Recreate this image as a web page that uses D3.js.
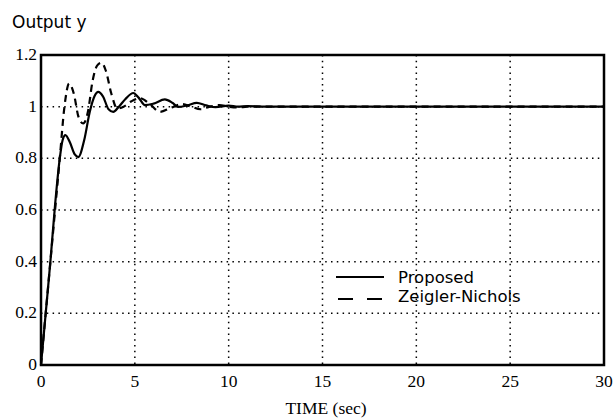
<!DOCTYPE html>
<html>
<head>
<meta charset="utf-8">
<script src="https://cdn.jsdelivr.net/npm/d3@7"></script>
<style>
  body { margin: 0; background: #fff; }
  svg { display: block; }
  .tick-label { font-family: "Liberation Serif", "Times New Roman", serif; font-size: 17.5px; fill: #000; }
  .sans { font-family: "DejaVu Sans", Verdana, sans-serif; font-size: 16.5px; fill: #000; }
</style>
</head>
<body>
<svg id="chart" width="615" height="419"></svg>
<script>
// step response
const timeProposed = [0, 0.25, 0.5, 0.75, 1.0, 1.15, 1.3, 1.55, 1.8, 1.99, 2.3, 2.6, 2.85, 3.05, 3.3, 3.6, 3.85, 4.15, 4.5, 4.92, 5.2, 5.54, 6.0, 6.6, 7.0, 7.3, 7.8, 8.3, 8.8, 9.3, 10, 10.5, 11, 12, 14, 30];
const yProposed    = [0, 0.2, 0.4, 0.62, 0.8, 0.87, 0.89, 0.86, 0.815, 0.805, 0.87, 0.98, 1.04, 1.057, 1.04, 0.99, 0.98, 1.0, 1.03, 1.053, 1.035, 1.006, 1.012, 1.028, 1.015, 0.999, 1.005, 1.015, 1.005, 0.998, 1.004, 1.0, 1.002, 1.0, 1.0, 1.0];
const timeZN = [0, 0.25, 0.5, 0.75, 1.0, 1.25, 1.5, 1.75, 2.0, 2.25, 2.5, 2.75, 3.0, 3.23, 3.45, 3.75, 4.06, 4.4, 4.8, 5.27, 5.8, 6.34, 6.9, 7.5, 8.0, 8.5, 9.0, 9.5, 10, 10.5, 11, 12, 30];
const yZN    = [0, 0.2, 0.4, 0.6, 0.8, 1.0, 1.09, 1.05, 0.96, 0.935, 0.98, 1.1, 1.16, 1.17, 1.14, 1.05, 0.993, 1.0, 1.02, 1.033, 1.01, 0.98, 0.995, 1.01, 1.0, 0.99, 1.0, 1.006, 1.0, 0.997, 1.0, 1.0, 1.0];
const xTicks = [0, 5, 10, 15, 20, 25, 30];
const yTicks = [0, 0.2, 0.4, 0.6, 0.8, 1, 1.2];
const legendNames = ["Proposed", "Zeigler-Nichols"];

const svg = d3.select("#chart");
const plot = { left: 41, right: 604, top: 55, bottom: 365 };

const x = d3.scaleLinear().domain([0, 30]).range([plot.left, plot.right]);
const y = d3.scaleLinear().domain([0, 1.2]).range([plot.bottom, plot.top]);

// dotted grid
svg.append("g").selectAll("line").data(xTicks.slice(1, -1)).enter().append("line")
  .attr("x1", d => x(d)).attr("x2", d => x(d)).attr("y1", plot.top).attr("y2", plot.bottom)
  .attr("stroke", "#000").attr("stroke-width", 1.5).attr("stroke-dasharray", "1.5,4.3");
svg.append("g").selectAll("line").data(yTicks.slice(1, -1)).enter().append("line")
  .attr("x1", plot.left).attr("x2", plot.right).attr("y1", d => y(d)).attr("y2", d => y(d))
  .attr("stroke", "#000").attr("stroke-width", 1.5).attr("stroke-dasharray", "1.5,4.3");

// tick labels
svg.append("g").selectAll("text").data(xTicks).enter().append("text")
  .attr("class", "tick-label").attr("x", d => x(d)).attr("y", 387)
  .attr("text-anchor", "middle").text(d => d);
svg.append("g").selectAll("text").data(yTicks).enter().append("text")
  .attr("class", "tick-label").attr("x", 37).attr("y", d => y(d) + 5)
  .attr("text-anchor", "end").text(d => d);

// curves
const line = d3.line().x(d => x(d[0])).y(d => y(d[1])).curve(d3.curveMonotoneX);
const zn = timeZN.map((t, i) => [t, yZN[i]]);
const prop = timeProposed.map((t, i) => [t, yProposed[i]]);

svg.append("path").datum(zn).attr("d", line)
  .attr("fill", "none").attr("stroke", "#000").attr("stroke-width", 2.2)
  .attr("stroke-dasharray", "7,5");
svg.append("path").datum(prop).attr("d", line)
  .attr("fill", "none").attr("stroke", "#000").attr("stroke-width", 2.2);

// frame
svg.append("rect").attr("x", plot.left).attr("y", plot.top)
  .attr("width", plot.right - plot.left).attr("height", plot.bottom - plot.top)
  .attr("fill", "none").attr("stroke", "#000").attr("stroke-width", 2.5);

// titles
svg.append("text").attr("class", "sans").attr("x", 12).attr("y", 28)
  .style("font-size", "17px").text("Output y");
svg.append("text").attr("class", "tick-label").attr("x", 326).attr("y", 414)
  .attr("text-anchor", "middle").text("TIME (sec)");

// legend
const lg = svg.append("g");
lg.append("line").attr("x1", 336).attr("x2", 384).attr("y1", 277).attr("y2", 277)
  .attr("stroke", "#000").attr("stroke-width", 2);
lg.append("line").attr("x1", 338).attr("x2", 384).attr("y1", 299).attr("y2", 299)
  .attr("stroke", "#000").attr("stroke-width", 2).attr("stroke-dasharray", "15,14");
lg.selectAll("text").data(legendNames).enter().append("text")
  .attr("class", "sans").attr("x", 398).attr("y", (d, i) => 283 + i * 19)
  .text(d => d);
</script>
</body>
</html>
